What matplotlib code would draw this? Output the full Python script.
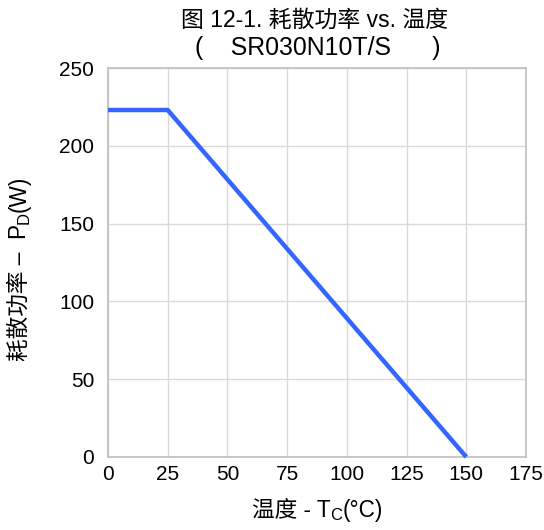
import matplotlib
matplotlib.use("Agg")
import matplotlib.pyplot as plt

plt.rcParams['font.family'] = ['Liberation Sans', 'Noto Sans CJK SC', 'DejaVu Sans']

# derating curve
temp_c = [0, 25, 150]
power_w = [223, 223, 0]

x_ticks = [0, 25, 50, 75, 100, 125, 150, 175]
y_ticks = [0, 50, 100, 150, 200, 250]

title_1 = '图 12-1. 耗散功率 vs. 温度'
title_2 = '(    SR030N10T/S      )'
# label pieces: (text, fontsize, baseline shift in px)
xlabel_parts = [('温度 - T', 16.3, 0), ('C', 12, -3), ('(°C)', 16.3, 0)]
ylabel_parts = [('耗散功率 –  P', 16.3, 0), ('D', 12, -3), ('(W)', 16.3, 0)]

W, H = 544, 530
fig = plt.figure(figsize=(W / 100, H / 100), dpi=100)
ax = fig.add_axes([108 / W, 1 - 457 / H, 418 / W, 389 / H])

ax.plot(temp_c, power_w, color='#3366ff', lw=3.2, solid_capstyle='butt', clip_on=False, zorder=3)

ax.set_xlim(0, 175)
ax.set_ylim(0, 250)
ax.set_xticks(x_ticks)
ax.set_yticks(y_ticks)
ax.grid(True, color='#d9d9d9', lw=1)
ax.tick_params(length=0, labelsize=15)
ax.tick_params(axis='x', pad=6)
ax.tick_params(axis='y', pad=10)
for s in ax.spines.values():
    s.set_color('#bfbfbf')
    s.set_linewidth(1.2)

renderer = fig.canvas.get_renderer()


def rich_text(cx, cy, parts, vertical=False):
    # cx, cy: pixels from bottom-left; cy (or cx when vertical) is the baseline
    items = []
    for s, size, dy in parts:
        t = fig.text(0, 0, s, fontsize=size, ha='left', va='baseline', rotation_mode='anchor')
        items.append((t, t.get_window_extent(renderer).width, dy))
    pos = -sum(w for _, w, _ in items) / 2
    for t, w, dy in items:
        if vertical:
            t.set_rotation(90)
            t.set_position(((cx - dy) / W, (cy + pos) / H))
        else:
            t.set_position(((cx + pos) / W, (cy + dy) / H))
        pos += w


rich_text(317, H - 517, xlabel_parts)
rich_text(26, H - 268, ylabel_parts, vertical=True)

fig.text(315 / W, 1 - 27 / H, title_1, fontsize=16.5, ha='center', va='baseline')
fig.text(318 / W, 1 - 55 / H, title_2, fontsize=17.9, ha='center', va='baseline')

fig.savefig('out.png', dpi=100)
